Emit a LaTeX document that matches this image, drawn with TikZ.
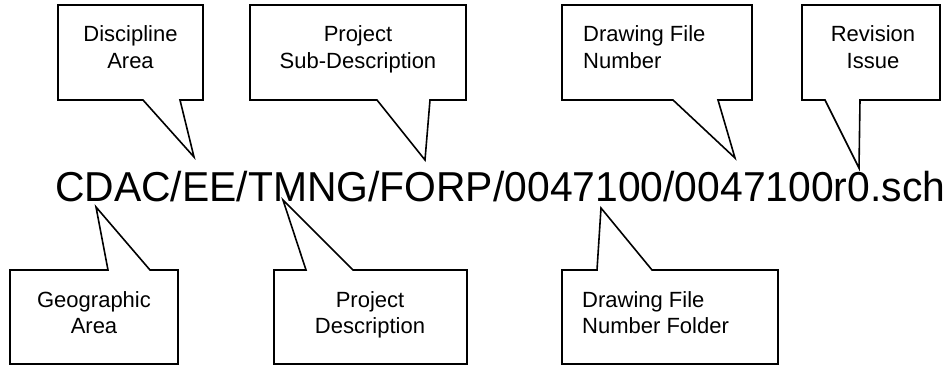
\documentclass[tikz,border=0pt]{standalone}
\usepackage{fontspec}
\setmainfont{Liberation Sans}
\begin{document}
\begin{tikzpicture}[x=1pt,y=-1pt,
  callout/.style={draw=black,line width=1.6pt,line join=miter,fill=white},
  lbl/.style={inner sep=0pt,font=\fontsize{22}{27}\selectfont,anchor=base},
  lbll/.style={inner sep=0pt,font=\fontsize{22}{27}\selectfont,anchor=base west,align=left}]
\useasboundingbox (0,0) rectangle (951,366);

% main file name
\node[inner sep=0pt,anchor=base west] (fname) at (55,202)
  {\resizebox{890pt}{30.3pt}{\fontsize{42}{42}\selectfont CDAC/EE/TMNG/FORP/0047100/0047100r0.sch}};

% tips
\coordinate (t1) at (194,157);
\coordinate (t2) at (425,160);
\coordinate (t3) at (735,158);
\coordinate (t4) at (859,168);
\coordinate (t5) at (96,207);
\coordinate (t6) at (283,200);
\coordinate (t7) at (601,208);

% top callouts
\draw[callout] (58,5) -- (203,5) -- (203,100) -- (180,100) -- (t1) -- (143,100) -- (58,100) -- cycle;
\draw[callout] (250,5) -- (466,5) -- (466,100) -- (430,100) -- (t2) -- (377,100) -- (250,100) -- cycle;
\draw[callout] (562,5) -- (752,5) -- (752,100) -- (718,100) -- (t3) -- (673,100) -- (562,100) -- cycle;
\draw[callout] (802,5) -- (940,5) -- (940,100) -- (860,100) -- (t4) -- (825,100) -- (802,100) -- cycle;

% bottom callouts
\draw[callout] (10,270) -- (108,270) -- (t5) -- (150,270) -- (178,270) -- (178,364) -- (10,364) -- cycle;
\draw[callout] (274,270) -- (306,270) -- (t6) -- (353,270) -- (467,270) -- (467,364) -- (274,364) -- cycle;
\draw[callout] (562,270) -- (597,270) -- (t7) -- (652,270) -- (778,270) -- (778,364) -- (562,364) -- cycle;

% labels
\node[lbl] (l1a) at (130.5,42) {Discipline};
\node[lbl] (l1b) at (130.5,69) {Area};
\node[lbl] (l2a) at (358,42) {Project};
\node[lbl] (l2b) at (358,69) {Sub-Description};
\node[lbll] (l3a) at (583,42) {Drawing File};
\node[lbll] (l3b) at (583,69) {Number};
\node[lbl] (l4a) at (873,42) {Revision};
\node[lbl] (l4b) at (873,69) {Issue};
\node[lbl] (l5a) at (94,307) {Geographic};
\node[lbl] (l5b) at (94,333) {Area};
\node[lbl] (l6a) at (370,307) {Project};
\node[lbl] (l6b) at (370,333) {Description};
\node[lbll] (l7a) at (582,307) {Drawing File};
\node[lbll] (l7b) at (582,333) {Number Folder};
\end{tikzpicture}
\end{document}
